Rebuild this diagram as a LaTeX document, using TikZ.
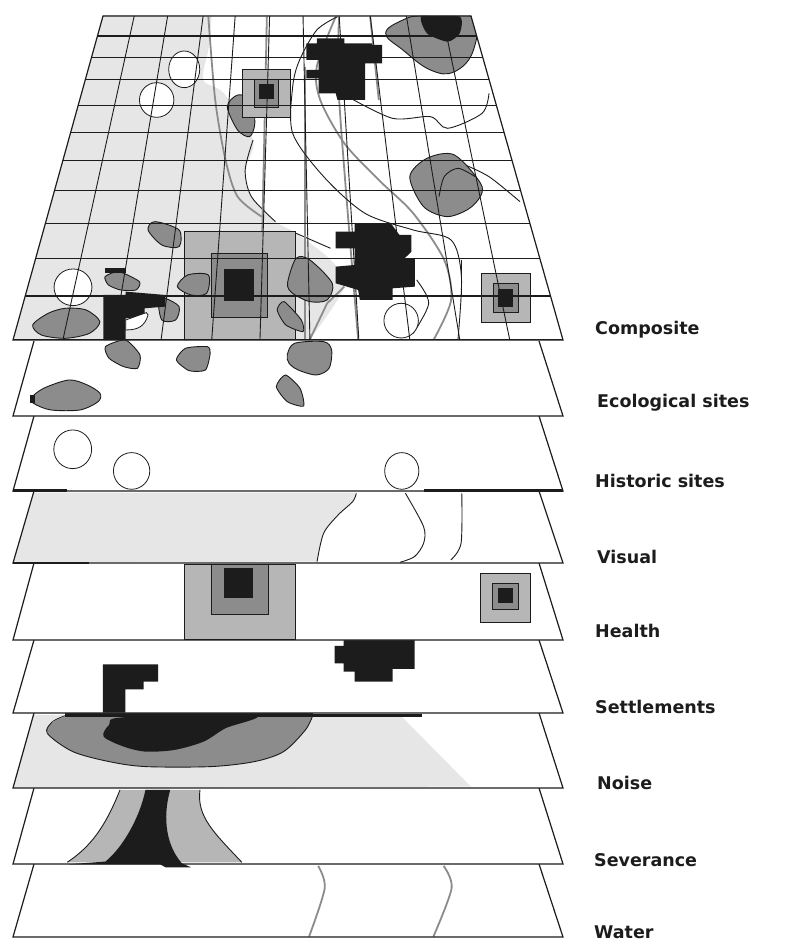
\documentclass[tikz,border=0pt]{standalone}
\usepackage{fontspec}
\setmainfont{DejaVu Sans}
\definecolor{ink}{HTML}{1C1C1C}
\definecolor{lite}{HTML}{E6E6E6}
\definecolor{midg}{HTML}{B6B6B6}
\definecolor{dark}{HTML}{8C8C8C}
\newcommand{\layerbox}[2]{%
  \fill[white] (34,#1) -- (13,#2) -- (563,#2) -- (539,#1) -- cycle;}
\newcommand{\layeredge}[2]{%
  \draw[edge] (34,#1) -- (13,#2) -- (563,#2) -- (539,#1);}
\tikzset{
  edge/.style={draw=ink,line width=1.2pt,line join=miter},
  eco/.style={fill=dark,draw=ink,line width=0.9pt},
  blk/.style={fill=ink},
  thin/.style={draw=ink,line width=0.9pt},
  water/.style={draw=dark,line width=1.8pt},
  site/.style={fill=white,draw=ink,line width=0.8pt},
  hb/.style={fill=midg,draw=ink,line width=1pt},
  hm/.style={fill=dark,draw=ink,line width=1pt},
  grid/.style={draw=ink,line width=1.1pt},
  lab/.style={anchor=west,font=\bfseries\fontsize{17.5}{20}\selectfont,text=ink,inner sep=0pt},
  z1/.style={xscale=0.34435,yscale=0.3333},
  z2/.style={xscale=0.3636,yscale=0.3333,shift={(0,990)}},
  z3/.style={xscale=0.3636,yscale=0.3333,shift={(0,1890)}}
}
\begin{document}
\begin{tikzpicture}[x=1pt,y=-1pt]
\useasboundingbox (0,0) rectangle (803,942);
\fill[white] (0,0) rectangle (803,942);

% Water
\layerbox{864}{937}
\begin{scope}[z3]
\draw[water] plot[smooth] coordinates {(875,708) (893,775) (850,920)};
\draw[water] plot[smooth] coordinates {(1220,708) (1242,775) (1192,920)};
\end{scope}
\layeredge{864}{937}

% Severance
\layerbox{788}{864}
\begin{scope}[z3]
\fill[midg] (330,480) -- (550,480) .. controls (540,560) and (590,610) .. (665,697) -- (185,697) .. controls (250,650) and (290,590) .. cycle;
\draw[thin] (550,480) .. controls (540,560) and (590,610) .. (665,697);
\draw[thin] (330,480) .. controls (290,590) and (250,650) .. (185,697);
\fill[blk] (400,480) -- (468,480) .. controls (445,570) and (460,650) .. (500,700) -- (525,712) -- (455,712) -- (440,703) -- (190,703) -- (290,695) .. controls (340,650) and (385,560) .. cycle;
\end{scope}
\layeredge{788}{864}

% Noise
\layerbox{713}{788}
\begin{scope}[z3]
\fill[lite] (92,255) -- (1100,255) -- (1295,470) -- (36,475) -- cycle;
\draw[eco] plot[smooth] coordinates {(180,257) (145,275) (130,310) (200,365) (300,395) (400,410) (580,410) (700,395) (780,365) (840,300) (860,257)};
\fill[dark] (180,257) -- (145,275) -- (130,310) -- (860,257) -- cycle;
\fill[blk] plot[smooth cycle] coordinates {(340,262) (700,257) (620,295) (560,335) (480,360) (400,365) (340,350) (285,320) (300,285)};
\fill[blk] (180,250) rectangle (860,262);
\draw[ink,line width=2.5pt] (860,256) -- (1160,256);
\end{scope}
\layeredge{713}{788}

% Settlements
\layerbox{640}{713}
\begin{scope}[z3]
\fill[blk] (283,103) -- (435,103) -- (435,155) -- (395,155) -- (395,178) -- (345,178) -- (345,248) -- (283,248) -- cycle;
\fill[blk] (920,48) -- (945,48) -- (945,30) -- (1140,30) -- (1140,117) -- (1080,117) -- (1080,155) -- (975,155) -- (975,125) -- (945,125) -- (945,100) -- (920,100) -- cycle;
\end{scope}
\layeredge{640}{713}

% Health
\layerbox{563}{640}
\begin{scope}[z2]
\filldraw[hb] (507,703) rectangle (812,930);
\filldraw[hm] (583,703) rectangle (738,855);
\fill[blk] (615,715) rectangle (697,805);
\filldraw[hb] (1322,730) rectangle (1458,878);
\filldraw[hm] (1355,762) rectangle (1425,840);
\fill[blk] (1370,775) rectangle (1412,820);
\end{scope}
\layeredge{563}{640}

% Visual
\layerbox{491}{563}
\begin{scope}[z2]
\fill[lite] (94,488) -- (980,488) -- plot[smooth] coordinates {(980,490) (970,515) (930,555) (890,610) (872,695)} -- (36,697) -- cycle;
\draw[thin] plot[smooth] coordinates {(980,490) (970,515) (930,555) (890,610) (872,695)};
\draw[thin] plot[smooth] coordinates {(1115,490) (1165,590) (1165,640) (1140,680) (1100,697)};
\draw[thin] plot[smooth] coordinates {(1270,490) (1268,640) (1240,690)};
\end{scope}
\layeredge{491}{563}
\draw[ink,line width=2.5pt] (13,563) -- (89,563);

% Historic
\layerbox{416}{491}
\begin{scope}[z2]
\draw[site] (200,358) ellipse [x radius=52,y radius=58];
\draw[site] (362,423) ellipse [x radius=50,y radius=55];
\draw[site] (1105,423) ellipse [x radius=47,y radius=55];
\end{scope}
\layeredge{416}{491}
\draw[ink,line width=2.5pt] (13,490.5) -- (67,490.5);
\draw[ink,line width=2.5pt] (424,490.5) -- (563,490.5);

% Ecological
\layerbox{341}{416}
\begin{scope}[z2]
\draw[eco] plot[smooth cycle] coordinates {(85,205) (120,175) (190,150) (240,165) (275,190) (270,215) (220,240) (140,240) (95,222)};
\fill[blk] (83,195) rectangle (95,220);
\draw[eco] plot[smooth cycle,tension=0.4] coordinates {(290,50) (345,30) (385,75) (378,115) (340,110) (300,85)};
\draw[eco] plot[smooth cycle,tension=0.4] coordinates {(485,90) (510,55) (570,50) (578,70) (565,120) (520,122)};
\draw[eco] plot[smooth cycle] coordinates {(790,75) (810,40) (890,35) (912,60) (905,115) (870,135) (820,120) (795,100)};
\draw[eco] plot[smooth cycle,tension=0.4] coordinates {(760,170) (785,135) (825,175) (835,228) (790,215)};
\end{scope}
\layeredge{341}{416}

% Composite
\fill[white] (103,16) -- (13,340) -- (563,340) -- (471,16) -- cycle;
\begin{scope}
\clip (103,16) -- (13,340) -- (563,340) -- (471,16) -- cycle;
\begin{scope}[z1]
\fill[lite] (298,47) -- (615,47) -- plot[smooth] coordinates {(615,47) (605,150) (590,240) (650,280) (735,420) (712,510) (730,590) (800,665) (860,700) (960,780) (1000,860) (900,1018)} -- (30,1018) -- cycle;
\draw[thin] plot[smooth] coordinates {(735,420) (712,510) (730,590) (800,665)};
\draw[thin] plot[smooth] coordinates {(860,700) (960,745)};
\draw[water] plot[smooth] coordinates {(605,50) (625,300) (655,480) (690,590) (760,650)};
\draw[water] (885,200) -- (885,1018);
\draw[water] (775,50) -- (755,1018);
\draw[water] (1075,50) -- (1100,300);
\draw[water] plot[smooth] coordinates {(975,50) (920,200) (930,300) (1000,430) (1100,540) (1200,640) (1290,780) (1310,900) (1260,1018)};
\draw[water] plot[smooth] coordinates {(985,50) (985,300) (1040,1018)};
\draw[water] (1000,860) -- (950,910) -- (900,1018);
\draw[thin] plot[smooth] coordinates {(980,50) (920,90) (870,180) (850,260) (850,400) (940,530) (1060,640) (1200,690) (1310,720) (1340,830) (1330,1018)};
\draw[thin] plot[smooth] coordinates {(1010,290) (1140,355) (1250,350) (1300,385) (1400,340) (1420,280)};
\draw[thin] plot[smooth] coordinates {(1340,490) (1420,530) (1510,605)};
\draw[thin] (1340,780) -- (1340,890);
\draw[thin] plot[smooth] coordinates {(1210,840) (1245,910) (1200,1000)};
% ecological
\draw[eco] plot[smooth cycle,tension=0.7] coordinates {(1120,100) (1170,60) (1230,47) (1370,50) (1375,150) (1320,215) (1250,210) (1170,150)};
\fill[blk] plot[smooth cycle,tension=0.4] coordinates {(1225,47) (1335,50) (1335,100) (1300,125) (1240,100)};
\draw[eco] plot[smooth cycle] coordinates {(660,320) (690,285) (730,300) (740,370) (725,410) (690,390)};
\draw[eco] plot[smooth cycle] coordinates {(1190,530) (1240,475) (1320,465) (1400,560) (1370,620) (1300,650) (1230,620)};
\draw[thin] plot[smooth] coordinates {(1275,590) (1290,530) (1330,505) (1380,530)};
\draw[eco] plot[smooth cycle] coordinates {(430,690) (450,665) (520,690) (520,740) (470,735)};
\draw[eco] plot[smooth cycle] coordinates {(95,975) (140,940) (190,925) (250,930) (290,965) (260,1000) (190,1015) (120,1005)};
\draw[eco] plot[smooth cycle,tension=0.4] coordinates {(305,830) (345,815) (405,845) (395,870) (350,870) (315,855)};
\draw[eco] plot[smooth cycle,tension=0.5] coordinates {(460,900) (480,895) (520,920) (510,960) (470,960)};
% health
\filldraw[hb] (535,695) rectangle (858,1025);
\filldraw[hm] (615,762) rectangle (778,952);
\fill[blk] (650,806) rectangle (738,902);
\filldraw[hb] (705,208) rectangle (845,352);
\filldraw[hm] (740,240) rectangle (808,322);
\fill[blk] (752,252) rectangle (795,298);
\filldraw[hb] (1397,822) rectangle (1540,968);
\filldraw[hm] (1432,852) rectangle (1505,938);
\fill[blk] (1445,868) rectangle (1490,920);
\draw[eco] plot[smooth cycle,tension=0.5] coordinates {(515,860) (545,825) (605,825) (600,880) (555,885)};
\draw[eco] plot[smooth cycle] coordinates {(835,850) (860,775) (900,780) (965,850) (950,900) (900,905) (850,880)};
\draw[eco] plot[smooth cycle,tension=0.4] coordinates {(805,930) (825,905) (875,960) (880,995) (830,975)};
% settlements
\fill[blk] (890,130) -- (920,130) -- (920,115) -- (1000,115) -- (1000,130) -- (1080,130) -- (1080,135) -- (1110,135) -- (1110,190) -- (1060,190) -- (1060,300) -- (980,300) -- (975,280) -- (925,280) -- (925,235) -- (890,235) -- (890,210) -- (925,210) -- (925,180) -- (890,180) -- cycle;
\fill[blk] (975,695) -- (1030,695) -- (1030,670) -- (1135,670) -- (1160,705) -- (1195,705) -- (1195,755) -- (1175,775) -- (1205,775) -- (1205,860) -- (1140,865) -- (1140,900) -- (1045,900) -- (1040,870) -- (975,850) -- (975,800) -- (1030,795) -- (1030,745) -- (975,745) -- cycle;
\fill[blk] (300,885) -- (365,885) -- (365,875) -- (480,885) -- (480,920) -- (420,925) -- (420,950) -- (365,955) -- (365,1030) -- (300,1030) -- cycle;
\fill[blk] (305,805) rectangle (365,820);
\filldraw[site] (365,960) -- (425,938) -- (430,945) .. controls (420,980) and (400,990) .. (365,990) -- cycle;
% historic
\draw[site] (535,208) ellipse [x radius=45,y radius=55];
\draw[site] (455,300) ellipse [x radius=50,y radius=52];
\draw[site] (212,862) ellipse [x radius=55,y radius=55];
\draw[site] (1165,962) ellipse [x radius=50,y radius=52];
% grid verticals
\foreach \t/\b in {390/183,487/330,590/468,683/615,783/755,880/900,985/1042,1075/1190,1180/1335,1285/1480}
  \draw[grid,line width=0.9pt] (\t,47) -- (\b,1018);
% grid horizontals
\foreach \y in {47,108,172,238,316,398,482,572,670,775,888,1018}
  \draw[grid] (0,\y) -- (1700,\y);
\end{scope}
\end{scope}
\draw[edge] (103,16) -- (13,340) -- (563,340) -- (471,16) -- cycle;

% Labels
\node[lab] (composite) at (595,330) {Composite};
\node[lab] (eco) at (597,403) {Ecological sites};
\node[lab] (historic) at (595,481) {Historic sites};
\node[lab] (visual) at (597,557) {Visual};
\node[lab] (health) at (595,631) {Health};
\node[lab] (settle) at (595,707) {Settlements};
\node[lab] (noise) at (597,783) {Noise};
\node[lab] (sever) at (594,860) {Severance};
\node[lab] (water) at (594,932) {Water};
\end{tikzpicture}
\end{document}
